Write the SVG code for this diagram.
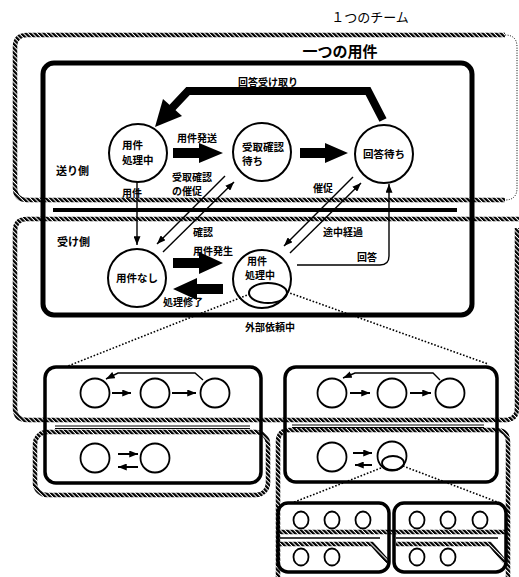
<svg xmlns="http://www.w3.org/2000/svg" width="519" height="577" viewBox="0 0 519 577">
<style>
.hatch{fill:none;stroke:url(#hp);stroke-width:4.5}
.thick{fill:none;stroke:#000;stroke-width:5}
.sub{fill:none;stroke:#000;stroke-width:3.5}
.st{fill:none;stroke:#000;stroke-width:2}
.sc{fill:none;stroke:#000;stroke-width:1.8}
.ln{fill:none;stroke:#000;stroke-width:1.4}
.dot{fill:none;stroke:#000;stroke-width:1.6;stroke-dasharray:1.6 1.8}
.big{fill:#000}
text{font-family:"Noto Sans CJK JP","Noto Sans",sans-serif;fill:#000}
.lb{font-size:10px;font-weight:bold}
.cl{font-size:10.5px;font-weight:bold}
.side{font-size:11px;font-weight:bold}
</style>
<defs>
<pattern id="hp" patternUnits="userSpaceOnUse" width="3.2" height="3.2" patternTransform="rotate(-45)"><rect width="2.2" height="3.2" fill="#000"/></pattern>
<marker id="ah" viewBox="0 0 10 8" refX="10" refY="4" markerWidth="9" markerHeight="7" markerUnits="userSpaceOnUse" orient="auto"><path d="M0,0 L10,4 L0,8 Z" fill="#000"/></marker>
<marker id="sa" viewBox="0 0 10 8" refX="10" refY="4" markerWidth="9" markerHeight="7" markerUnits="userSpaceOnUse" orient="auto"><path d="M0,0 L10,4 L0,8 Z" fill="#000"/></marker>
</defs>

<text x="370" y="22" text-anchor="middle" font-size="13">１つのチーム</text>
<text x="340" y="57" text-anchor="middle" font-size="15" font-weight="bold">一つの用件</text>

<g id="teams">
<path class="hatch" d="M505,35 H27 Q15,35 15,47 V188 Q15,200 27,200 H505"/>
<path d="M505,35 Q517,35 517,47 V188 Q517,200 505,200" fill="none" stroke="#000" stroke-width="1" stroke-dasharray="1 1.5"/>
<path class="hatch" d="M519,219 H27 Q15,219 15,231 V408 Q15,420 27,420 H505 Q517,420 517,408 V228"/>
<rect class="hatch" x="35" y="432" width="233" height="63" rx="12"/>
<path class="hatch" d="M278,590 V442 Q278,430 290,430 H496 Q508,430 508,442 V590"/>
<path class="hatch" d="M278,532 H507"/>
<path class="hatch" d="M280,544 H372 L388,562"/>
<path class="hatch" d="M396,544 H490 L505,562"/>
</g>

<g id="main-box">
<rect class="thick" x="43" y="63" width="429" height="252" rx="11"/>
<line x1="53" y1="210" x2="457" y2="210" stroke="#000" stroke-width="4"/>
<text class="side" x="56" y="175">送り側</text>
<text class="side" x="57" y="246">受け側</text>
</g>

<g id="n-sender-busy">
<circle class="st" cx="138" cy="153" r="29"/>
<text class="cl" x="122" y="149">用件</text>
<text class="cl" x="122" y="164">処理中</text>
</g>
<g id="n-wait-ack">
<circle class="st" cx="262" cy="152" r="29"/>
<text class="cl" x="242" y="151">受取確認</text>
<text class="cl" x="242" y="165">待ち</text>
</g>
<g id="n-wait-reply">
<circle class="st" cx="384" cy="154" r="29"/>
<text class="cl" x="384" y="158" text-anchor="middle">回答待ち</text>
</g>
<g id="n-none">
<circle class="st" cx="137" cy="278" r="29"/>
<text class="cl" x="137" y="282" text-anchor="middle">用件なし</text>
</g>
<g id="n-recv-busy">
<circle class="st" cx="262" cy="279" r="29"/>
<text class="lb" x="247" y="265">用件</text>
<text class="lb" x="245" y="279">処理中</text>
<ellipse class="st" cx="268" cy="293" rx="19" ry="10"/>
</g>

<g id="connectors">
<path d="M383,120 L368,91 L188,91 L172,108" fill="none" stroke="#000" stroke-width="8" stroke-linejoin="miter"/>
<polygon class="big" points="155,127 163,99 182,116"/>
<polygon class="big" points="173,148 199,148 199,143 223,153 199,163 199,158 173,158"/>
<polygon class="big" points="300,148 325,148 325,143 348,153 325,163 325,158 300,158"/>
<polygon class="big" points="173,258 199,258 199,252 223,263 199,274 199,268 173,268"/>
<polygon class="big" points="223,284 197,284 197,278 173,289 197,300 197,294 223,294"/>
<path class="ln" d="M137,182 V245" marker-end="url(#ah)"/>
<path class="ln" d="M225,176 L157,244" marker-end="url(#ah)"/>
<path class="ln" d="M163,252 L234,182" marker-end="url(#ah)"/>
<path class="ln" d="M353,177 L284,246" marker-end="url(#ah)"/>
<path class="ln" d="M290,253 L361,183" marker-end="url(#ah)"/>
<path class="ln" d="M297,265 H380 Q389,265 389,256 V184" marker-end="url(#ah)"/>
<path class="dot" d="M250,294 L68,366"/>
<path class="dot" d="M287,292 L488,364"/>
<path class="dot" d="M381,468 L292,503"/>
<path class="dot" d="M403,466 L500,503"/>
<text class="lb" x="268" y="86" text-anchor="middle">回答受け取り</text>
<text class="lb" x="177" y="142">用件発送</text>
<text class="lb" x="122" y="197">用件</text>
<text class="lb" x="172" y="181">受取確認</text>
<text class="lb" x="172" y="195">の催促</text>
<text class="lb" x="313" y="192">催促</text>
<text class="lb" x="193" y="236">確認</text>
<text class="lb" x="323" y="236">途中経過</text>
<text class="lb" x="357" y="261">回答</text>
<text class="lb" x="193" y="255">用件発生</text>
<text class="lb" x="163" y="306">処理修了</text>
<text class="lb" x="270" y="331" text-anchor="middle">外部依頼中</text>
</g>

<g id="sub-left">
<rect class="sub" x="45" y="367" width="216" height="116" rx="11"/>
<circle class="sc" cx="95" cy="393" r="14.5"/>
<circle class="sc" cx="155" cy="393" r="14.5"/>
<circle class="sc" cx="215" cy="393" r="14.5"/>
<path class="st" d="M112,393 H131" marker-end="url(#sa)"/>
<path class="st" d="M172,393 H196" marker-end="url(#sa)"/>
<path class="ln" d="M203,380 L195,373 H118 L106,379" marker-end="url(#sa)"/>
<path d="M55,426 H250 M55,428.5 H250" stroke="#000" stroke-width="1"/>
<circle class="sc" cx="95" cy="458" r="14.5"/>
<circle class="sc" cx="155" cy="458" r="14.5"/>
<path class="st" d="M118,454 H138" marker-end="url(#sa)"/>
<path class="st" d="M138,467 H118" marker-end="url(#sa)"/>
</g>

<g id="sub-right">
<rect class="sub" x="285" y="367" width="212" height="115" rx="11"/>
<circle class="sc" cx="332" cy="393" r="14.5"/>
<circle class="sc" cx="392" cy="393" r="14.5"/>
<circle class="sc" cx="450" cy="393" r="14.5"/>
<path class="st" d="M350,393 H370" marker-end="url(#sa)"/>
<path class="st" d="M410,393 H431" marker-end="url(#sa)"/>
<path class="ln" d="M440,380 L433,373 H355 L343,378" marker-end="url(#sa)"/>
<path d="M292,425 H484 M292,427.5 H484" stroke="#000" stroke-width="1"/>
<circle class="sc" cx="332" cy="457" r="14.5"/>
<circle class="sc" cx="392" cy="456" r="14.5"/>
<ellipse class="sc" cx="393" cy="463" rx="11" ry="7"/>
<path class="st" d="M353,453 H372" marker-end="url(#sa)"/>
<path class="st" d="M372,465 H355" marker-end="url(#sa)"/>
</g>

<g id="subsub-left">
<rect class="sub" x="278" y="503" width="111" height="69" rx="10"/>
<ellipse class="sc" cx="301" cy="520" rx="7.5" ry="8.5"/>
<ellipse class="sc" cx="332" cy="520" rx="7.5" ry="8.5"/>
<ellipse class="sc" cx="363" cy="520" rx="7.5" ry="8.5"/>
<line x1="280" y1="538" x2="380" y2="538" stroke="#000" stroke-width="1.5"/>
<ellipse class="sc" cx="301" cy="557" rx="7.5" ry="8.5"/>
<ellipse class="sc" cx="332" cy="557" rx="7.5" ry="8.5"/>
</g>
<g id="subsub-right">
<rect class="sub" x="394" y="503" width="112" height="69" rx="10"/>
<ellipse class="sc" cx="417" cy="520" rx="7.5" ry="8.5"/>
<ellipse class="sc" cx="448" cy="520" rx="7.5" ry="8.5"/>
<ellipse class="sc" cx="480" cy="520" rx="7.5" ry="8.5"/>
<line x1="396" y1="538" x2="498" y2="538" stroke="#000" stroke-width="1.5"/>
<ellipse class="sc" cx="417" cy="557" rx="7.5" ry="8.5"/>
<ellipse class="sc" cx="448" cy="557" rx="7.5" ry="8.5"/>
</g>
</svg>
